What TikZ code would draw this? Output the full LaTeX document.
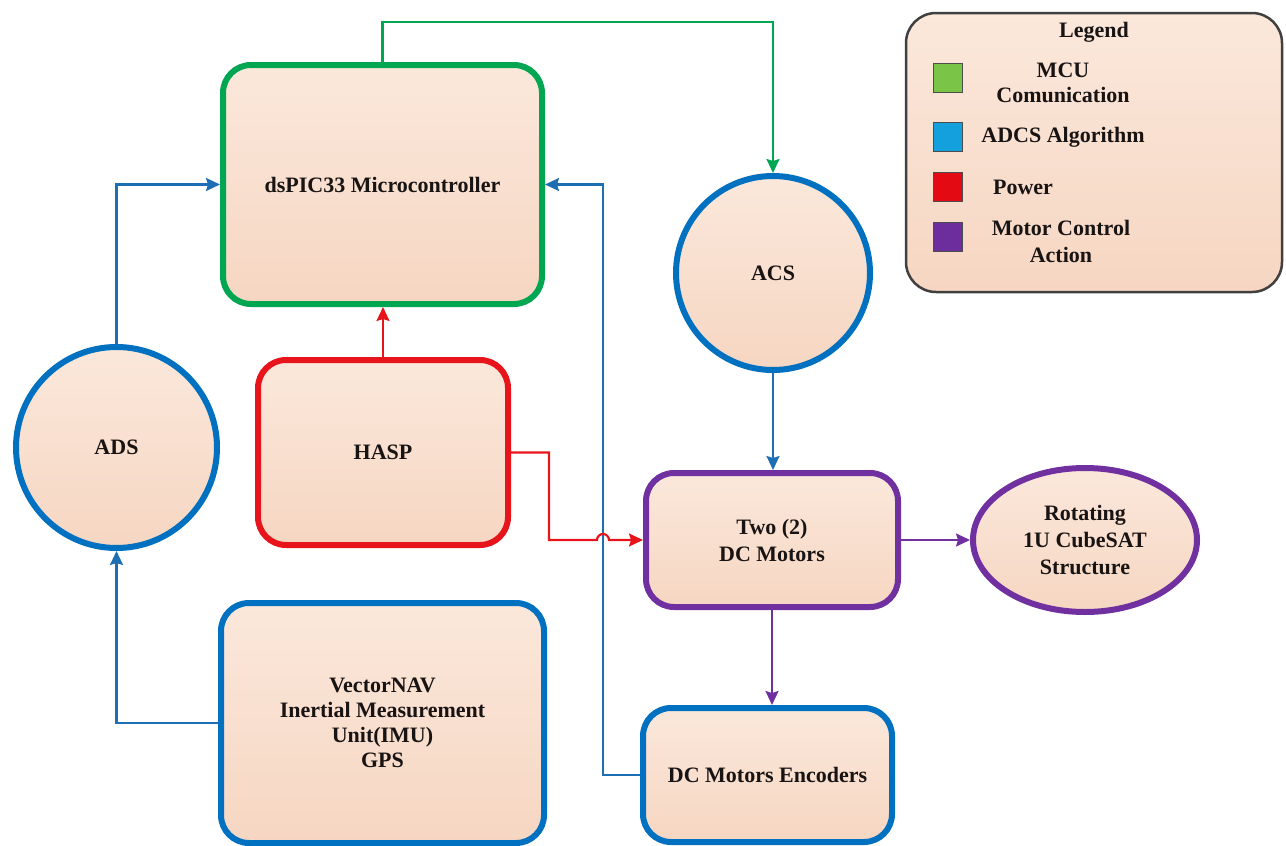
\documentclass[tikz,border=0pt]{standalone}
\usepackage{fontspec}
\setmainfont{Liberation Serif}
\usetikzlibrary{arrows.meta,shapes.geometric,calc}
\definecolor{peachT}{RGB}{251,232,219}
\definecolor{peachB}{RGB}{246,214,194}
\definecolor{cgreen}{RGB}{0,166,81}
\definecolor{cblue}{RGB}{0,112,192}
\definecolor{lblue}{RGB}{30,110,180}
\definecolor{cred}{RGB}{232,20,28}
\definecolor{cpurple}{RGB}{112,48,160}
\definecolor{sqgreen}{RGB}{122,196,72}
\definecolor{sqblue}{RGB}{20,160,220}
\definecolor{sqred}{RGB}{228,10,20}
\definecolor{sqpurple}{RGB}{108,46,156}
\definecolor{txt}{RGB}{25,20,20}
\begin{document}
\begin{tikzpicture}[x=1pt,y=-1pt,
  lbl/.style={font=\fontsize{22}{27}\selectfont\bfseries, text=txt, align=center},
  blk/.style={lbl, rectangle, rounded corners=28pt, draw=#1, line width=6pt,
    top color=peachT, bottom color=peachB, inner sep=0pt},
  rnd/.style={lbl, circle, draw=#1, line width=6pt,
    top color=peachT, bottom color=peachB, inner sep=0pt},
  oval/.style={lbl, ellipse, draw=#1, line width=6pt,
    top color=peachT, bottom color=peachB, inner sep=0pt},
  conn/.style={draw=#1, line width=2.2pt,
    -{Stealth[length=14pt,width=13pt,inset=2pt]}},
  sq/.style={rectangle, draw=black!70, line width=1pt, fill=#1,
    minimum width=29pt, minimum height=29pt, inner sep=0pt},
  legtxt/.style={font=\fontsize{22}{25}\selectfont\bfseries, text=txt, align=center}
]
\useasboundingbox (0,0) rectangle (1286,846);

% legend
\node[rectangle, rounded corners=30pt, draw=black!75, line width=2.5pt,
  top color=peachT, bottom color=peachB, minimum width=376pt, minimum height=279pt]
  (legend) at (1094,152.5) {};
\node[legtxt] (legtitle) at (1094,32) {Legend};
\node[sq=sqgreen] (sq1) at (948,78) {};
\node[sq=sqblue] (sq2) at (948,137) {};
\node[sq=sqred] (sq3) at (948,187) {};
\node[sq=sqpurple] (sq4) at (948,237) {};
\node[legtxt] (lt1) at (1063,83) {MCU\\Comunication};
\node[legtxt] (lt2) at (1063,137) {ADCS Algorithm};
\node[legtxt] (lt3) at (1023,187) {Power};
\node[legtxt, font=\fontsize{22}{27}\selectfont\bfseries] (lt4) at (1061,241) {Motor Control\\Action};

% blocks
\node[blk=cgreen, minimum width=319pt, minimum height=239pt] (mcu) at (382.5,184.5) {dsPIC33 Microcontroller};
\node[rnd=cblue, minimum size=194pt] (acs) at (773,273) {ACS};
\node[rnd=cblue, minimum size=201pt] (ads) at (116.5,447.5) {ADS};
\node[blk=cred, minimum width=250pt, minimum height=185pt] (hasp) at (383,452.5) {HASP};
\node[blk=cpurple, minimum width=252pt, minimum height=134pt] (motors) at (772,540) {Two (2)\\DC Motors};
\node[oval=cpurple, minimum width=224pt, minimum height=144pt] (rot) at (1085,540) {Rotating\\1U CubeSAT\\Structure};
\node[blk=cblue, minimum width=323pt, minimum height=240pt, font=\fontsize{22}{25}\selectfont\bfseries] (imu) at (382.5,723) {VectorNAV\\Inertial Measurement\\Unit(IMU)\\GPS};
\node[blk=cblue, minimum width=249pt, minimum height=134pt] (enc) at (767.5,775) {DC Motors Encoders};

% connectors
\draw[conn=cgreen] (mcu.north) -- ++(0,-40) -| (acs.north);
\draw[conn=lblue] (ads.north) |- (mcu.west);
\draw[conn=lblue] (imu.west) -| (ads.south);
\draw[conn=cred] (hasp.north) -- (hasp.north |- mcu.south);
\draw[conn=lblue] (enc.west) -- ++(-37,0) |- (mcu.east);
\coordinate (hopL) at ($(motors.west)+(-46,0)$);
\draw[conn=cred] (hasp.east) -- ++(38,0) |- (hopL) arc[start angle=180, end angle=0, radius=6pt] -- (motors.west);
\draw[conn=lblue] (acs.south) -- (acs.south |- motors.north);
\draw[conn=cpurple] (motors.east) -- (rot.west);
\draw[conn=cpurple] (motors.south) -- (motors.south |- enc.north);
\end{tikzpicture}
\end{document}
